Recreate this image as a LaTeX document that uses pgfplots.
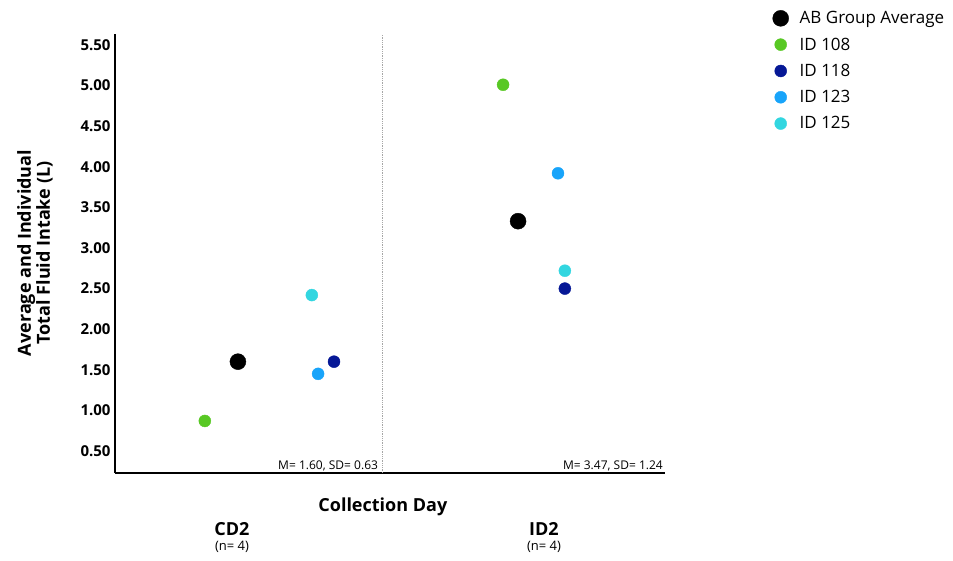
\documentclass[border=0pt]{standalone}
\usepackage{fontspec}
\setmainfont{Open Sans}
\usepackage{pgfplots}
\pgfplotsset{compat=1.18}

\definecolor{id108}{RGB}{88,200,36}
\definecolor{id118}{RGB}{6,24,150}
\definecolor{id123}{RGB}{24,164,250}
\definecolor{id125}{RGB}{50,214,224}

\newcommand{\fs}[1]{\fontsize{#1}{#1}\selectfont}

\begin{document}
\begin{tikzpicture}
\begin{axis}[
  scale only axis,
  width=550pt, height=439pt,
  xmin=0.625, xmax=2.388,
  ymin=0.229, ymax=5.635,
  axis x line=bottom, axis y line=left,
  axis line style={-, line width=1.4pt, black},
  major tick length=0pt,
  ytick={0.5,1,1.5,2,2.5,3,3.5,4,4.5,5,5.5},
  yticklabel style={font=\fs{15}\bfseries, xshift=-1pt,
    /pgf/number format/.cd, fixed, fixed zerofill, precision=2, assume math mode=true},
  xtick={1,2},
  xticklabels={{\fs{18}\bfseries CD2\\[3pt]\fs{13}(n= 4)},
               {\fs{18}\bfseries ID2\\[3pt]\fs{13}(n= 4)}},
  xticklabel style={align=center, anchor=north, yshift=-46pt},
  clip=false,
  legend cell align=left,
  legend style={draw=none, fill=none, at={(rel axis cs:1.19,1.061)}, anchor=north west,
    font=\fs{17}, row sep=8.5pt,
    /tikz/every odd column/.style={column sep=9pt}},
  legend image code/.code={\draw[mark repeat=2,mark phase=2,#1]
    plot coordinates {(0pt,0pt) (6pt,0pt) (12pt,0pt)};},
]
% group average
\addplot[only marks, mark=*, mark size=8pt, draw=black, fill=black]
  coordinates {(1.019,1.60) (1.917,3.33)};
\addlegendentry{AB Group Average}
% individual participants
\addplot[only marks, mark=*, mark size=6pt, draw=id108, fill=id108]
  coordinates {(0.913,0.87) (1.869,5.01)};
\addlegendentry{ID 108}
\addplot[only marks, mark=*, mark size=6pt, draw=id118, fill=id118]
  coordinates {(1.327,1.60) (2.067,2.50)};
\addlegendentry{ID 118}
\addplot[only marks, mark=*, mark size=6pt, draw=id123, fill=id123]
  coordinates {(1.276,1.45) (2.045,3.92)};
\addlegendentry{ID 123}
\addplot[only marks, mark=*, mark size=6pt, draw=id125, fill=id125]
  coordinates {(1.256,2.42) (2.067,2.72)};
\addlegendentry{ID 125}

% separator between collection days
\draw[densely dotted, gray!70, line width=0.8pt]
  (axis cs:1.481,0.229) -- (axis cs:1.481,5.635);

% summary statistics
\node[anchor=south east, font=\fs{12}, inner sep=2pt] at (axis cs:1.475,0.229) {M= 1.60, SD= 0.63};
\node[anchor=south east, font=\fs{12}, inner sep=2pt] at (axis cs:2.388,0.229) {M= 3.47, SD= 1.24};

% x axis title
\node[font=\fs{18}\bfseries] at (rel axis cs:0.487,0) [yshift=-34pt] {Collection Day};
\end{axis}
% y axis title
\node[font=\fs{18}\bfseries, rotate=90, align=center] at (-80pt,220pt)
  {Average and Individual\\[1pt]Total Fluid Intake (L)};
\pgfresetboundingbox
\path (-115pt,-87pt) rectangle (838pt,473pt);
\end{tikzpicture}
\end{document}
